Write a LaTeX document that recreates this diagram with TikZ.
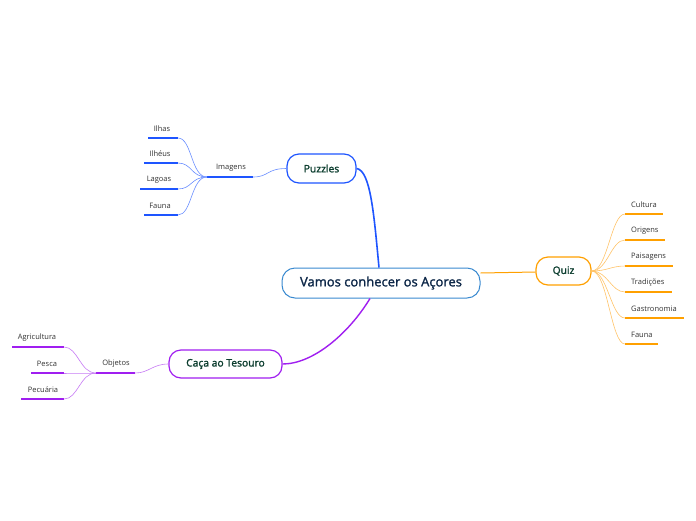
\documentclass[tikz,border=0pt]{standalone}
\usepackage{fontspec}
\setmainfont{Open Sans}
\newfontfamily\medfont[FakeBold=1.6]{Open Sans}
\definecolor{cblue}{HTML}{1E55FF}
\definecolor{lblue}{HTML}{6A8EFF}
\definecolor{corange}{HTML}{FFA000}
\definecolor{lorange}{HTML}{FFC469}
\definecolor{cpurple}{HTML}{A01EF0}
\definecolor{lpurple}{HTML}{C77BF5}
\definecolor{cborder}{HTML}{3A8AD0}
\definecolor{navy}{HTML}{0D2748}
\definecolor{dgreen}{HTML}{0B3D2E}
\definecolor{leaftext}{HTML}{333333}
\tikzset{
  mainbox/.style={draw, line width=1.2pt, rounded corners=12pt, fill=white, text=dgreen, font=\medfont\fontsize{10.3}{12}\selectfont, inner sep=0pt},
  centre/.style={draw=cborder, line width=1pt, rounded corners=13pt, fill=white, text=navy, font=\medfont\fontsize{13}{15}\selectfont, minimum width=198pt, minimum height=30pt, inner sep=0pt},
  lbl/.style={text=leaftext, font=\fontsize{7.5}{9}\selectfont, inner sep=0pt},
  ul/.style={line width=1.8pt},
  thin/.style={line width=0.6pt},
}
\begin{document}
\begin{tikzpicture}[x=1pt,y=-1pt]
\fill[white] (0,0) rectangle (696,520);
\useasboundingbox (0,0) rectangle (696,520);

% central
\node[centre] (c) at (381,283) {Vamos conhecer os Açores};

% main branches
\node[mainbox, draw=cblue, minimum width=69pt, minimum height=29pt] (puz) at (321.5,168.5) {Puzzles};
\node[mainbox, draw=corange, minimum width=55pt, minimum height=28pt] (quiz) at (563.5,271) {Quiz};
\node[mainbox, draw=cpurple, minimum width=113pt, minimum height=28pt] (caca) at (225.5,364) {Caça ao Tesouro};

% main connectors
\draw[cblue, line width=1.6pt] (puz.east) .. controls +(14,2) and (374,215) .. ([xshift=-2pt]c.north);
\draw[corange, line width=1pt] ([yshift=10pt]c.east) -- ([yshift=-1pt]quiz.west);
\draw[cpurple, line width=1.4pt] ([xshift=-11pt]c.south) .. controls +(-22,36) and +(30,0) .. (caca.east);

% ---- Puzzles side
\coordinate (imgL) at (207,177); \coordinate (imgR) at (253,177);
\draw[cblue, ul] (imgL) -- (imgR);
\node[lbl] (img) at (231,167.5) {Imagens};
\draw[lblue, thin] (puz.west) .. controls +(-20,0) and +(16,0) .. (imgR);

\foreach \n/\t/\xl/\y/\tx in {ilhas/Ilhas/148/138/162, ilheus/Ilhéus/144/163/160, lagoas/Lagoas/140/189/159, fauna/Fauna/144/215/160}{
  \coordinate (\n L) at (\xl,\y); \coordinate (\n R) at (178,\y);
  \draw[cblue, ul] (\n L) -- (\n R);
  \node[lbl] (\n) at (\tx,\y-9.5) {\t};
  \draw[lblue, thin] (imgL) .. controls +(-16,0) and +(14,0) .. (\n R);
}

% ---- Quiz side
\foreach \n/\t/\xr/\y in {cul/Cultura/663/214, ori/Origens/665/240, pai/Paisagens/673/266, tra/Tradições/672/292, gas/Gastronomia/684/318, qfa/Fauna/658/344}{
  \coordinate (\n L) at (625,\y); \coordinate (\n R) at (\xr,\y);
  \draw[corange, ul] (\n L) -- (\n R);
  \node[lbl, anchor=west] (\n) at (631,\y-9.5) {\t};
  \draw[lorange, thin] (quiz.east) .. controls +(16,0) and +(-14,0) .. (\n L);
}

% ---- Caça side
\coordinate (objL) at (96,373); \coordinate (objR) at (135,373);
\draw[cpurple, ul] (objL) -- (objR);
\node[lbl] (obj) at (116,364) {Objetos};
\draw[lpurple, thin] (caca.west) .. controls +(-16,0) and +(14,0) .. (objR);

\foreach \n/\t/\xl/\y/\tx in {agr/Agricultura/12/347/37, pes/Pesca/31/373/47, pec/Pecuária/21/399/43}{
  \coordinate (\n L) at (\xl,\y); \coordinate (\n R) at (64,\y);
  \draw[cpurple, ul] (\n L) -- (\n R);
  \node[lbl] (\n) at (\tx,\y-9.5) {\t};
  \draw[lpurple, thin] (objL) .. controls +(-16,0) and +(14,0) .. (\n R);
}
\end{tikzpicture}
\end{document}
